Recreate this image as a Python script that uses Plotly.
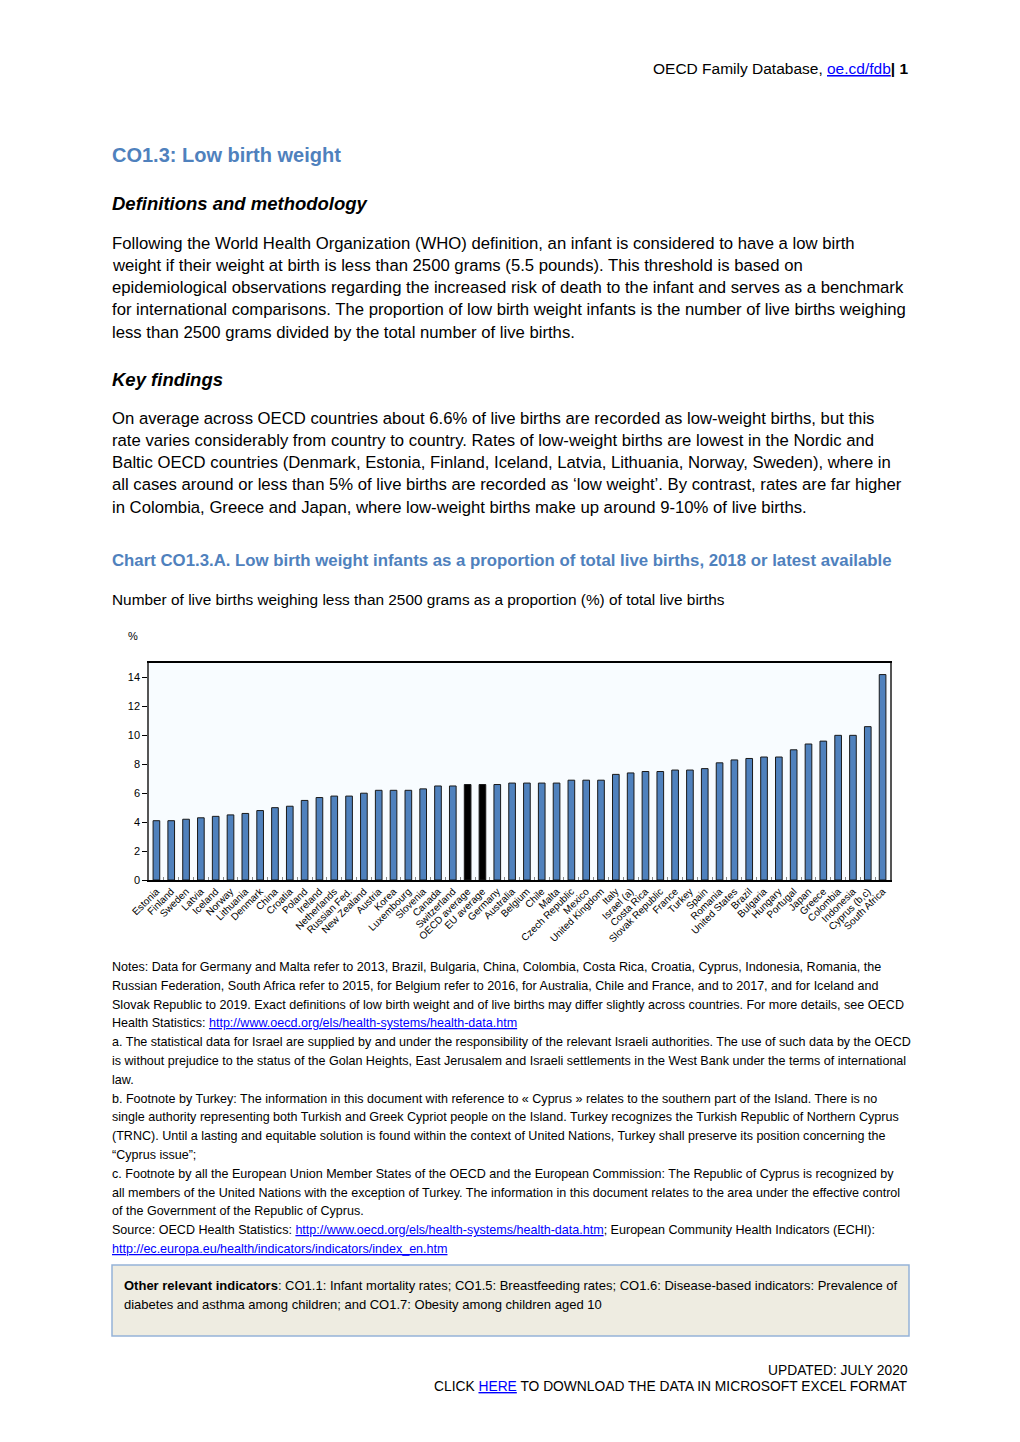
import plotly.graph_objects as go

W, H = 1020, 1442
OFF = 8  # page body margin offset compensation

# ---------------- data ----------------
countries = ["Estonia", "Finland", "Sweden", "Latvia", "Iceland", "Norway", "Lithuania", "Denmark",
             "China", "Croatia", "Poland", "Ireland", "Netherlands", "Russian Fed.", "New Zealand",
             "Austria", "Korea", "Luxembourg", "Slovenia", "Canada", "Switzerland", "OECD average",
             "EU average", "Germany", "Australia", "Belgium", "Chile", "Malta", "Czech Republic",
             "Mexico", "United Kingdom", "Italy", "Israel (a)", "Costa Rica", "Slovak Republic",
             "France", "Turkey", "Spain", "Romania", "United States", "Brazil", "Bulgaria", "Hungary",
             "Portugal", "Japan", "Greece", "Colombia", "Indonesia", "Cyprus (b,c)", "South Africa"]
low_birth_weight = [4.1, 4.1, 4.2, 4.3, 4.4, 4.5, 4.6, 4.8, 5.0, 5.1, 5.5, 5.7, 5.8, 5.8, 6.0,
                    6.2, 6.2, 6.2, 6.3, 6.5, 6.5, 6.6, 6.6, 6.6, 6.7, 6.7, 6.7, 6.7, 6.9, 6.9,
                    6.9, 7.3, 7.4, 7.5, 7.5, 7.6, 7.6, 7.7, 8.1, 8.3, 8.4, 8.5, 8.5, 9.0, 9.4,
                    9.6, 10.0, 10.0, 10.6, 14.2]
averages = ["OECD average", "EU average"]
y_ticks = [0, 2, 4, 6, 8, 10, 12, 14]

BLUE = "#4f81bd"
bar_colors = ["#000000" if c in averages else BLUE for c in countries]

SANS = "Liberation Sans, Arial, sans-serif"
TITLE_BLUE = "#4f81bd"
LINK = "#0000ff"


def px(x):
    return (x - OFF) / W


def py(y):
    return 1 - (y - OFF) / H


def link(t):
    return f"<span style='color:{LINK};text-decoration:underline'>{t}</span>"


fig = go.Figure()
fig.add_trace(go.Bar(
    x=countries, y=low_birth_weight, width=0.45,
    marker=dict(color=bar_colors, line=dict(color="#1a1a1a", width=1)),
    hoverinfo="x+y",
))

ann = []


def text(x, y, t, size=16, font=SANS, color="#000000", xanchor="left"):
    ann.append(dict(x=px(x), y=py(y), xref="paper", yref="paper", text=t, showarrow=False,
                    xanchor=xanchor, yanchor="middle", align=xanchor, borderpad=0,
                    font=dict(family=font, size=size, color=color)))


# header
text(909, 69, "OECD Family Database, " + link("oe.cd/fdb") + "<b>| 1</b>", size=15.5, xanchor="right")

# titles
text(111, 155, "<b>CO1.3: Low birth weight</b>", size=20, color=TITLE_BLUE)
text(111, 204, "<b><i>Definitions and methodology</i></b>", size=18.5)

para1 = [
    "Following the World Health Organization (WHO) definition, an infant is considered to have a low birth",
    "weight if their weight at birth is less than 2500 grams (5.5 pounds). This threshold is based on",
    "epidemiological observations regarding the increased risk of death to the infant and serves as a benchmark",
    "for international comparisons. The proportion of low birth weight infants is the number of live births weighing",
    "less than 2500 grams divided by the total number of live births.",
]
for i, l in enumerate(para1):
    text(111, 243 + i * 22.3, l, size=16.7)

text(111, 379, "<b><i>Key findings</i></b>", size=18.5)

para2 = [
    "On average across OECD countries about 6.6% of live births are recorded as low-weight births, but this",
    "rate varies considerably from country to country. Rates of low-weight births are lowest in the Nordic and",
    "Baltic OECD countries (Denmark, Estonia, Finland, Iceland, Latvia, Lithuania, Norway, Sweden), where in",
    "all cases around or less than 5% of live births are recorded as ‘low weight’. By contrast, rates are far higher",
    "in Colombia, Greece and Japan, where low-weight births make up around 9-10% of live births.",
]
for i, l in enumerate(para2):
    text(111, 418 + i * 22.3, l, size=16.7)

text(111, 560, "<b>Chart CO1.3.A. Low birth weight infants as a proportion of total live births, 2018 or latest available</b>",
     size=16.8, color=TITLE_BLUE)
text(111, 599, "Number of live births weighing less than 2500 grams as a proportion (%) of total live births", size=15.4)

text(133, 636, "%", size=11, xanchor="center")

url1 = "http://www.oecd.org/els/health-systems/health-data.htm"
notes = [
    "Notes: Data for Germany and Malta refer to 2013, Brazil, Bulgaria, China, Colombia, Costa Rica, Croatia, Cyprus, Indonesia, Romania, the",
    "Russian Federation, South Africa refer to 2015, for Belgium refer to 2016, for Australia, Chile and France, and to 2017, and for Iceland and",
    "Slovak Republic to 2019. Exact definitions of low birth weight and of live births may differ slightly across countries. For more details, see OECD",
    "Health Statistics: " + link(url1),
    "a. The statistical data for Israel are supplied by and under the responsibility of the relevant Israeli authorities. The use of such data by the OECD",
    "is without prejudice to the status of the Golan Heights, East Jerusalem and Israeli settlements in the West Bank under the terms of international",
    "law.",
    "b. Footnote by Turkey: The information in this document with reference to « Cyprus » relates to the southern part of the Island. There is no",
    "single authority representing both Turkish and Greek Cypriot people on the Island. Turkey recognizes the Turkish Republic of Northern Cyprus",
    "(TRNC). Until a lasting and equitable solution is found within the context of United Nations, Turkey shall preserve its position concerning the",
    "“Cyprus issue”;",
    "c. Footnote by all the European Union Member States of the OECD and the European Commission: The Republic of Cyprus is recognized by",
    "all members of the United Nations with the exception of Turkey. The information in this document relates to the area under the effective control",
    "of the Government of the Republic of Cyprus.",
    "Source: OECD Health Statistics: " + link(url1) + "; European Community Health Indicators (ECHI):",
    link("http://ec.europa.eu/health/indicators/indicators/index_en.htm"),
]
for i, l in enumerate(notes):
    text(111, 967 + i * 18.8, l, size=12.55)

# box
box_lines = [
    "<b>Other relevant indicators</b>: CO1.1: Infant mortality rates; CO1.5: Breastfeeding rates; CO1.6: Disease-based indicators: Prevalence of",
    "diabetes and asthma among children; and CO1.7: Obesity among children aged 10",
]
for i, l in enumerate(box_lines):
    text(123, 1285 + i * 19, l, size=13.0)

text(909, 1370, "UPDATED: JULY 2020", size=13.8, xanchor="right")
text(909, 1386, "CLICK " + link("HERE") + " TO DOWNLOAD THE DATA IN MICROSOFT EXCEL FORMAT", size=13.8, xanchor="right")

shapes = [dict(type="rect", xref="paper", yref="paper", x0=px(112), x1=px(909), y0=py(1336), y1=py(1265),
               fillcolor="#eeece1", line=dict(color="#95b3d7", width=1.5), layer="below")]

fig.update_layout(
    width=W, height=H,
    margin=dict(l=0, r=0, t=0, b=0, autoexpand=False),
    paper_bgcolor="white",
    plot_bgcolor="#f8fcff",
    showlegend=False,
    annotations=ann,
    shapes=shapes,
    xaxis=dict(domain=[px(149), px(890)], range=[-0.5, len(countries) - 0.5], automargin=False,
               tickangle=-45, tickfont=dict(family=SANS, size=10, color="#000000"),
               ticks="inside", tickson="boundaries", ticklen=3, tickcolor="#888888",
               showline=True, linecolor="#000000", linewidth=1.5, mirror=True,
               showgrid=False, fixedrange=True),
    yaxis=dict(domain=[py(880), py(663)], range=[0, 15], tickvals=y_ticks, automargin=False,
               tickfont=dict(family=SANS, size=11, color="#000000"),
               ticks="outside", ticklen=5, tickcolor="#000000",
               showline=True, linecolor="#555555", linewidth=1.5, mirror=True,
               showgrid=False, zeroline=False, fixedrange=True),
    bargap=0.5,
)

fig.write_html("out.html")
